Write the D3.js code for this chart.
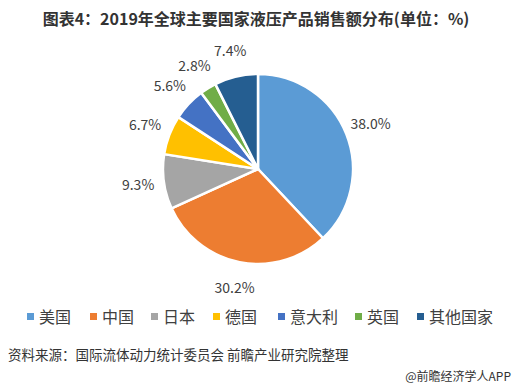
<!DOCTYPE html>
<html>
<head>
<meta charset="utf-8">
<script src="https://cdn.jsdelivr.net/npm/d3@7"></script>
<style>
  body { margin: 0; background: #fff; }
  svg text { font-family: "Noto Sans CJK SC", "DejaVu Sans", sans-serif; }
</style>
</head>
<body>
<svg id="chart" width="513" height="388"></svg>
<script>
var categories = ['美国', '中国', '日本', '德国', '意大利', '英国', '其他国家']
var values = [38.0, 30.2, 9.3, 6.7, 5.6, 2.8, 7.4]
var colors = ['#5B9BD5', '#ED7D31', '#A5A5A5', '#FFC000', '#4472C4', '#70AD47', '#255E91']
var legendX = [27, 90, 151, 213, 278, 355, 417]

var svg = d3.select('#chart')

// title
svg.append('text')
    .attr('x', 256).attr('y', 25)
    .attr('text-anchor', 'middle')
    .attr('font-size', 16).attr('font-weight', 'bold')
    .attr('fill', '#333333')
    .text('图表4：2019年全球主要国家液压产品销售额分布(单位：%)')

var cx = 258, cy = 169, r = 95

var pie = d3.pie().sort(null).value(function (d) { return d })
var arcs = pie(values)
var arc = d3.arc().innerRadius(0).outerRadius(r)
var labelArc = d3.arc().innerRadius(r + 26).outerRadius(r + 26)

var g = svg.append('g').attr('transform', 'translate(' + cx + ',' + cy + ')')

g.selectAll('path.slice')
    .data(arcs)
    .enter().append('path')
    .attr('class', 'slice')
    .attr('d', arc)
    .attr('fill', function (d, i) { return colors[i] })
    .attr('stroke', '#ffffff')
    .attr('stroke-width', 2.5)
    .attr('stroke-linejoin', 'round')

g.selectAll('text.lbl')
    .data(arcs)
    .enter().append('text')
    .attr('class', 'lbl')
    .attr('transform', function (d) { return 'translate(' + labelArc.centroid(d) + ')' })
    .attr('text-anchor', 'middle')
    .attr('dy', '0.35em')
    .attr('font-size', 14)
    .attr('fill', '#404040')
    .text(function (d) { return d.data.toFixed(1) + '%' })

// legend
var leg = svg.append('g')
leg.selectAll('rect')
    .data(categories)
    .enter().append('rect')
    .attr('x', function (d, i) { return legendX[i] })
    .attr('y', 313)
    .attr('width', 7).attr('height', 7)
    .attr('fill', function (d, i) { return colors[i] })
leg.selectAll('text')
    .data(categories)
    .enter().append('text')
    .attr('x', function (d, i) { return legendX[i] + 12 })
    .attr('y', 323)
    .attr('font-size', 16)
    .attr('fill', '#404040')
    .text(function (d) { return d })

svg.append('text')
    .attr('x', 8).attr('y', 360)
    .attr('font-size', 13.5).attr('fill', '#333333')
    .text('资料来源：国际流体动力统计委员会 前瞻产业研究院整理')

svg.append('text')
    .attr('x', 511).attr('y', 381)
    .attr('text-anchor', 'end')
    .attr('font-size', 12).attr('fill', '#333333')
    .text('@前瞻经济学人APP')
</script>
</body>
</html>
